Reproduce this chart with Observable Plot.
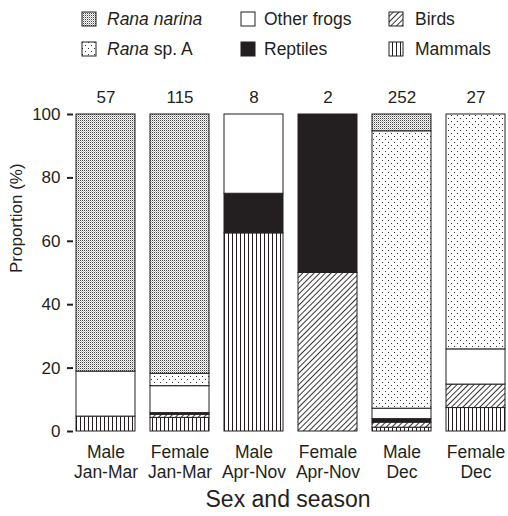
<!DOCTYPE html>
<html><head><meta charset="utf-8">
<script src="https://cdn.jsdelivr.net/npm/d3@7"></script>
<script src="https://cdn.jsdelivr.net/npm/@observablehq/plot@0.6"></script>
<style>
body{margin:0;background:#fff;}
#wrap{position:relative;width:508px;height:516px;overflow:hidden;font-family:"Liberation Sans",Arial,sans-serif;color:#231f20;}
#legend{position:relative;height:66px;}
.li{position:absolute;font-size:17.5px;line-height:20px;white-space:nowrap;}
.sw{position:absolute;display:block;}
</style>
</head><body>
<div id="wrap"><div id="legend"></div><div id="chart"></div></div>
<svg width="0" height="0" style="position:absolute;left:0;top:0">
<defs>
<pattern id="pNarina" width="2" height="2" patternUnits="userSpaceOnUse">
<rect width="2" height="2" fill="#fff"/><rect width="1" height="1" fill="#444"/><rect x="1" y="1" width="1" height="1" fill="#bbb"/>
</pattern>
<pattern id="pSpA" width="6" height="6" patternUnits="userSpaceOnUse">
<rect width="6" height="6" fill="#fff"/><rect x="1" y="1" width="1" height="1" fill="#333"/><rect x="4" y="4" width="1" height="1" fill="#333"/>
</pattern>
<pattern id="pBirds" width="4" height="4" patternUnits="userSpaceOnUse" patternTransform="rotate(45)">
<rect width="4" height="4" fill="#fff"/><line x1="0.5" y1="0" x2="0.5" y2="4" stroke="#231f20" stroke-width="0.9"/>
</pattern>
<pattern id="pMammals" width="4" height="4" patternUnits="userSpaceOnUse">
<rect width="4" height="4" fill="#fff"/><line x1="0.5" y1="0" x2="0.5" y2="4" stroke="#231f20" stroke-width="1"/>
</pattern>
</defs>
</svg>
<script>
// groups (x categories)
const groups = ["Male\nJan-Mar", "Female\nJan-Mar", "Male\nApr-Nov", "Female\nApr-Nov", "Male\nDec", "Female\nDec"];
const counts = [57, 115, 8, 2, 252, 27];
// stacked from bottom to top
const categories = ["Mammals", "Birds", "Reptiles", "Other frogs", "Rana sp. A", "Rana narina"];
const mammals    = [4.7, 4.3, 62.5, 0, 1.2, 7.4];
const birds      = [0, 1.0, 0, 50, 1.6, 7.4];
const reptiles   = [0, 0.5, 12.5, 50, 1.1, 0];
const otherFrogs = [14.2, 8.5, 25, 0, 3.3, 11.1];
const ranaSpA    = [0, 3.9, 0, 0, 87.5, 74.1];
const ranaNarina = [81.1, 81.8, 0, 0, 5.3, 0];
const yTicks = [0, 20, 40, 60, 80, 100];
const yLabel = "Proportion (%)";
const xLabel = "Sex and season";

const fills = {
  "Mammals": "url(#pMammals)",
  "Birds": "url(#pBirds)",
  "Reptiles": "#231f20",
  "Other frogs": "#ffffff",
  "Rana sp. A": "url(#pSpA)",
  "Rana narina": "url(#pNarina)"
};
const series = [mammals, birds, reptiles, otherFrogs, ranaSpA, ranaNarina];

const data = [];
groups.forEach((g, i) => {
  categories.forEach((c, k) => {
    const v = series[k][i];
    if (v > 0) data.push({group: g, cat: c, value: v});
  });
});
const countData = groups.map((g, i) => ({group: g, n: counts[i]}));

// legend
const legendItems = [
  {cat: "Rana narina", html: "<i>Rana narina</i>", col: 0, row: 0},
  {cat: "Rana sp. A", html: "<i>Rana</i> sp. A", col: 0, row: 1},
  {cat: "Other frogs", html: "Other frogs", col: 1, row: 0},
  {cat: "Reptiles", html: "Reptiles", col: 1, row: 1},
  {cat: "Birds", html: "Birds", col: 2, row: 0},
  {cat: "Mammals", html: "Mammals", col: 2, row: 1}
];
const swX = [82, 241, 389], txX = [107, 264, 415], rowY = [19, 49];
const leg = document.getElementById("legend");
legendItems.forEach(it => {
  const s = document.createElementNS("http://www.w3.org/2000/svg", "svg");
  s.setAttribute("width", 16); s.setAttribute("height", 16);
  s.setAttribute("class", "sw");
  s.style.left = (swX[it.col] - 1) + "px";
  s.style.top = (rowY[it.row] - 8) + "px";
  s.innerHTML = `<rect x="1" y="1" width="14" height="14" fill="${fills[it.cat]}" stroke="#231f20" stroke-width="1"/>`;
  leg.appendChild(s);
  const t = document.createElement("div");
  t.className = "li";
  t.innerHTML = it.html;
  t.style.left = txX[it.col] + "px";
  t.style.top = (rowY[it.row] - 10) + "px";
  leg.appendChild(t);
});

const plot = Plot.plot({
  width: 508, height: 450,
  marginLeft: 67, marginRight: 0, marginTop: 48, marginBottom: 85,
  style: {fontFamily: '"Liberation Sans", Arial, sans-serif', fontSize: "17px", color: "#231f20", background: "transparent", overflow: "visible"},
  x: {domain: groups, range: [67, 514.3], paddingInner: 0.2, paddingOuter: 0.09, align: 0.5, axis: null},
  y: {domain: [0, 100], axis: null},
  color: {type: "ordinal", domain: categories, range: categories.map(c => fills[c])},
  marks: [
    Plot.rectY(data, Plot.stackY({x: "group", y: "value", fill: "cat", stroke: "#231f20", strokeWidth: 1})),
    Plot.axisY({ticks: yTicks, tickSize: -6, tickPadding: 13, strokeWidth: 2, line: true, label: null, fontSize: 17}),
    Plot.axisX({tickSize: 0, tickPadding: 12, label: null, lineHeight: 1.14, fontSize: 17.5}),
    Plot.text(countData, {x: "group", text: "n", frameAnchor: "top", lineAnchor: "middle", dy: -17, fontSize: 17}),
    Plot.text([yLabel], {frameAnchor: "left", dx: -51, rotate: -90, fontSize: 17}),
    Plot.text([xLabel], {frameAnchor: "bottom", lineAnchor: "middle", dy: 68, fontSize: 23})
  ]
});
document.getElementById("chart").appendChild(plot);
</script>
</body></html>
